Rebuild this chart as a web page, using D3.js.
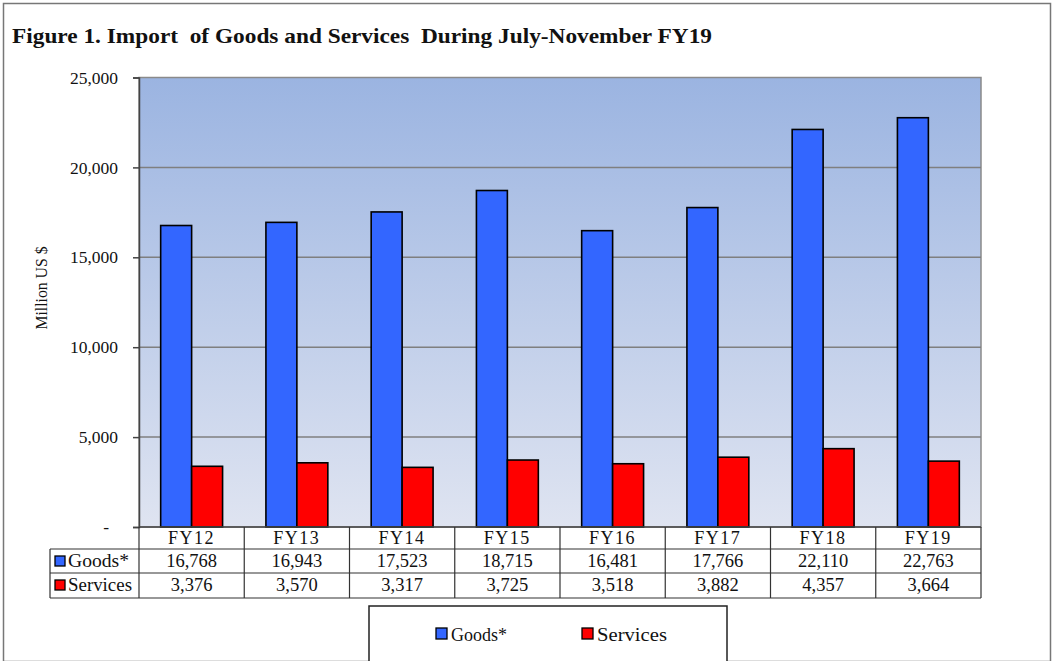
<!DOCTYPE html>
<html>
<head>
<meta charset="utf-8">
<script src="https://cdn.jsdelivr.net/npm/d3@7"></script>
<style>
  html, body { margin: 0; padding: 0; background: #fff; }
  svg { display: block; }
  text { font-family: "Liberation Serif", "DejaVu Serif", serif; fill: #111; }
</style>
</head>
<body>
<svg id="chart" width="1052" height="661"></svg>
<script>
const categories = ["FY12", "FY13", "FY14", "FY15", "FY16", "FY17", "FY18", "FY19"];
const goods = [16768, 16943, 17523, 18715, 16481, 17766, 22110, 22763];
const services = [3376, 3570, 3317, 3725, 3518, 3882, 4357, 3664];
const seriesNames = ["Goods*", "Services"];
const seriesColors = ["#3366ff", "#ff0000"];
const yTicks = [0, 5000, 10000, 15000, 20000, 25000];
const titleText = "Figure 1. Import  of Goods and Services  During July-November FY19";
const yTitle = "Million US $";

const svg = d3.select("#chart");
const W = 1052, H = 661;

// outer frame
svg.append("rect").attr("x", 3.5).attr("y", 3.5).attr("width", W - 5).attr("height", H - 3)
  .attr("fill", "#fff").attr("stroke", "#777").attr("stroke-width", 1.5);

// title
svg.append("text").attr("x", 12).attr("y", 43)
  .attr("font-size", 21).attr("font-weight", "bold")
  .attr("xml:space", "preserve").style("white-space", "pre")
  .attr("textLength", 700).attr("lengthAdjust", "spacingAndGlyphs")
  .text(titleText);

const plot = { left: 139, right: 981, top: 77.5, bottom: 527 };

const x = d3.scaleBand().domain(categories).range([plot.left, plot.right]).paddingInner(0).paddingOuter(0);
const y = d3.scaleLinear().domain([0, 25000]).range([plot.bottom, plot.top]);
const inner = d3.scaleBand().domain(seriesNames).range([0, x.bandwidth()]).paddingInner(0).paddingOuter(0.7);

// gradient background
const defs = svg.append("defs");
const grad = defs.append("linearGradient").attr("id", "bg").attr("x1", 0).attr("y1", 0).attr("x2", 0).attr("y2", 1);
grad.append("stop").attr("offset", "0%").attr("stop-color", "#9bb4e1");
grad.append("stop").attr("offset", "100%").attr("stop-color", "#dfe4f1");

svg.append("rect").attr("x", plot.left).attr("y", plot.top)
  .attr("width", plot.right - plot.left).attr("height", plot.bottom - plot.top)
  .attr("fill", "url(#bg)").attr("stroke", "#8a8a8a").attr("stroke-width", 1.5);

// gridlines
svg.append("g").selectAll("line").data(yTicks.filter(t => t > 0 && t < 25000)).join("line")
  .attr("x1", plot.left).attr("x2", plot.right)
  .attr("y1", d => y(d)).attr("y2", d => y(d))
  .attr("stroke", "#7f7f7f").attr("stroke-width", 1.5);

// y axis
const yAxis = d3.axisLeft(y).tickValues(yTicks).tickSize(6).tickPadding(15)
  .tickFormat(d => d === 0 ? "-" : d3.format(",")(d));
const ga = svg.append("g").attr("transform", `translate(${plot.left},0)`).call(yAxis);
ga.attr("font-size", 17.5);
ga.select(".domain").attr("stroke", "#444").attr("stroke-width", 1.5);
ga.selectAll(".tick line").attr("stroke", "#444").attr("stroke-width", 1.5);
ga.selectAll(".tick text").attr("font-family", "Liberation Serif, serif").attr("font-size", 17.5).attr("fill", "#222");
ga.selectAll(".tick").filter(d => d === 0).select("text").attr("dx", -9);

// y title
svg.append("text").attr("transform", `translate(47,288) rotate(-90)`)
  .attr("text-anchor", "middle").attr("font-size", 17)
  .attr("textLength", 83).attr("lengthAdjust", "spacingAndGlyphs").text(yTitle);

// bars
const data = categories.map((c, i) => ({ cat: c, vals: [goods[i], services[i]] }));
const groups = svg.append("g").selectAll("g").data(data).join("g")
  .attr("transform", d => `translate(${x(d.cat)},0)`);
groups.selectAll("rect").data(d => d.vals.map((v, j) => ({ name: seriesNames[j], v, j }))).join("rect")
  .attr("x", d => inner(d.name)).attr("width", inner.bandwidth())
  .attr("y", d => y(d.v)).attr("height", d => y(0) - y(d.v))
  .attr("fill", d => seriesColors[d.j]).attr("stroke", "#000").attr("stroke-width", 1.6);

// data table
const rowY = [527, 549, 573, 598];
const tableLeft = 50;
const tg = svg.append("g");
const lineColor = "#333";
tg.append("line").attr("x1", plot.left).attr("x2", plot.right).attr("y1", rowY[0]).attr("y2", rowY[0]).attr("stroke", "#444").attr("stroke-width", 1.5);
[1, 2, 3].forEach(k => {
  tg.append("line").attr("x1", tableLeft).attr("x2", plot.right).attr("y1", rowY[k]).attr("y2", rowY[k])
    .attr("stroke", lineColor).attr("stroke-width", 1.2);
});
tg.append("line").attr("x1", tableLeft).attr("x2", tableLeft).attr("y1", rowY[1]).attr("y2", rowY[3]).attr("stroke", lineColor).attr("stroke-width", 1.2);
categories.concat(["end"]).forEach((c, i) => {
  const xx = i < categories.length ? x(c) : plot.right;
  tg.append("line").attr("x1", xx).attr("x2", xx).attr("y1", rowY[0]).attr("y2", rowY[3]).attr("stroke", lineColor).attr("stroke-width", 1.2);
});
tg.selectAll("text.cat").data(categories).join("text").attr("class", "cat")
  .attr("x", d => x(d) + x.bandwidth() / 2).attr("y", rowY[0] + 16.5).attr("text-anchor", "middle")
  .attr("font-size", 18).attr("letter-spacing", 1.5).text(d => d);
[goods, services].forEach((arr, k) => {
  tg.selectAll(`text.v${k}`).data(arr).join("text").attr("class", `v${k}`)
    .attr("x", (d, i) => x(categories[i]) + x.bandwidth() / 2).attr("y", rowY[k + 1] + 18)
    .attr("text-anchor", "middle").attr("font-size", 18.5).text(d => d3.format(",")(d));
  tg.append("rect").attr("x", tableLeft + 5).attr("y", rowY[k + 1] + 7).attr("width", 10).attr("height", 10)
    .attr("fill", seriesColors[k]).attr("stroke", "#000").attr("stroke-width", 1.3);
  tg.append("text").attr("x", tableLeft + 18).attr("y", rowY[k + 1] + 18).attr("font-size", 18.5)
    .attr("textLength", k === 0 ? 61 : 64).attr("lengthAdjust", "spacingAndGlyphs")
    .text(seriesNames[k]);
});

// legend
const lg = svg.append("g");
lg.append("rect").attr("x", 369).attr("y", 606).attr("width", 358).attr("height", 80)
  .attr("fill", "#fff").attr("stroke", "#222").attr("stroke-width", 1.5);
const legX = [436, 582];
const legLen = [56, 70];
seriesNames.forEach((n, k) => {
  lg.append("rect").attr("x", legX[k]).attr("y", 628).attr("width", 11).attr("height", 11)
    .attr("fill", seriesColors[k]).attr("stroke", "#000").attr("stroke-width", 1.3);
  lg.append("text").attr("x", legX[k] + 15).attr("y", 641).attr("font-size", 18.5)
    .attr("textLength", legLen[k]).attr("lengthAdjust", "spacingAndGlyphs").text(n);
});
</script>
</body>
</html>
